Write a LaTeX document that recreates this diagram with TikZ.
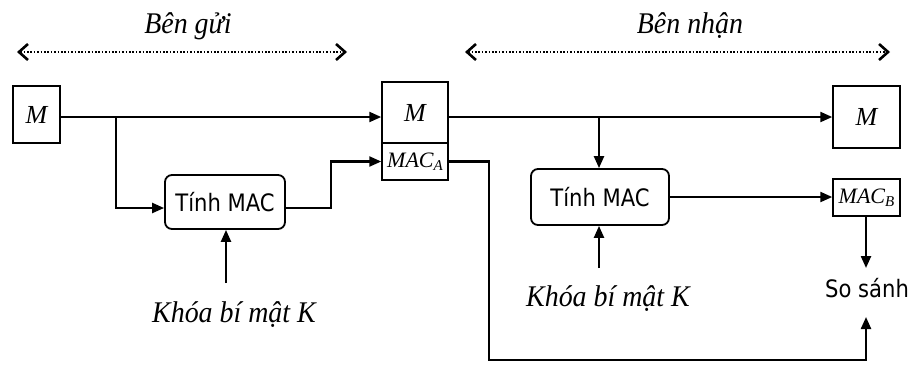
\documentclass[tikz,border=0pt]{standalone}
\usepackage{fontspec}
\setmainfont{Liberation Serif}
\newfontfamily\serifit[FakeStretch=0.93]{Liberation Serif}
\newfontfamily\sansf[FakeStretch=0.88]{DejaVu Sans}
\usetikzlibrary{arrows.meta}
\begin{document}
\begin{tikzpicture}[x=1pt,y=-1pt,
  line width=2.3pt,
  arr/.style={-{Triangle[length=12pt,width=10pt]}},
  boxm/.style={draw,line width=1.5pt,inner sep=0pt,font=\fontsize{26}{28}\selectfont\itshape},
  proc/.style={draw,line width=1.8pt,rounded corners=7pt,inner sep=0pt,font=\sansf\fontsize{24}{26}\selectfont},
  lbl/.style={font=\serifit\fontsize{30}{32}\selectfont\itshape},
  sanslbl/.style={font=\sansf\fontsize{24}{26}\selectfont},
  dots/.style={line width=2pt,dash pattern=on 1.6pt off 1.8pt,{Straight Barb[length=9pt,width=16pt,line width=2.6pt]}-{Straight Barb[length=9pt,width=16pt,line width=2.6pt]}}
]
\useasboundingbox (0,0) rectangle (912,365);

% headers
\node[lbl,anchor=base] (h1) at (188,33) {Bên gửi};
\node[lbl,anchor=base] (h2) at (690,33) {Bên nhận};
\coordinate (d1a) at (17,52);
\coordinate (d1b) at (347,52);
\coordinate (d2a) at (465,52);
\coordinate (d2b) at (890,52);
\draw[dots] (d1a) -- (d1b);
\draw[dots] (d2a) -- (d2b);

% boxes
\node[boxm,minimum width=47pt,minimum height=57pt] (m1) at (36.5,114.5) {M};
\node[boxm,minimum width=66pt,minimum height=61pt] (m2) at (415,112.5) {M};
\node[boxm,minimum width=66pt,minimum height=37pt,font=\fontsize{22}{24}\selectfont\itshape] (maca) at (415,161.5) {MAC\raisebox{-3pt}{\fontsize{15}{15}\selectfont A}};
\node[boxm,minimum width=67pt,minimum height=62pt] (m3) at (866.5,117) {M};
\node[boxm,minimum width=67pt,minimum height=37pt,font=\fontsize{22}{24}\selectfont\itshape] (macb) at (866.5,197.5) {MAC\raisebox{-3pt}{\fontsize{15}{15}\selectfont B}};
\node[proc,minimum width=120pt,minimum height=54pt] (t1) at (225,202) {Tính MAC};
\node[proc,minimum width=138pt,minimum height=56pt] (t2) at (600,197) {Tính MAC};

\node[lbl,anchor=base] (k1) at (234,322) {Khóa bí mật K};
\node[lbl,anchor=base] (k2) at (608,306) {Khóa bí mật K};
\node[sanslbl,anchor=base] (ss) at (867,297) {So sánh};

% coordinates
\coordinate (y0) at (0,117);
\coordinate (b1) at (116,117);
\coordinate (b2) at (599,117);
\coordinate (kt1) at (226,283);
\coordinate (kt2) at (599,268);
\coordinate (ssTop) at (866,268);
\coordinate (ssBot) at (866,317);
\coordinate (cb) at (866,360);

% connectors
\draw[arr] (m1.east |- y0) -- (m2.west |- y0);
\draw[arr] (b1) |- ([yshift=-6pt]t1.west);
\draw[arr] ([yshift=-6pt]t1.east) -- ++(45,0) |- (maca.west);
\draw[arr] (kt1) -- (kt1 |- t1.south);
\draw[arr] (m2.east |- y0) -- (m3.west |- y0);
\draw[arr] (b2) -- (b2 |- t2.north);
\draw[arr] (t2.east) -- (macb.west |- t2.east);
\draw[arr] (kt2) -- (kt2 |- t2.south);
\draw[arr] (macb.south -| ssTop) -- (ssTop);
\draw[arr] (maca.east) -- ++(40,0) |- (cb) -- (ssBot);
\end{tikzpicture}
\end{document}
